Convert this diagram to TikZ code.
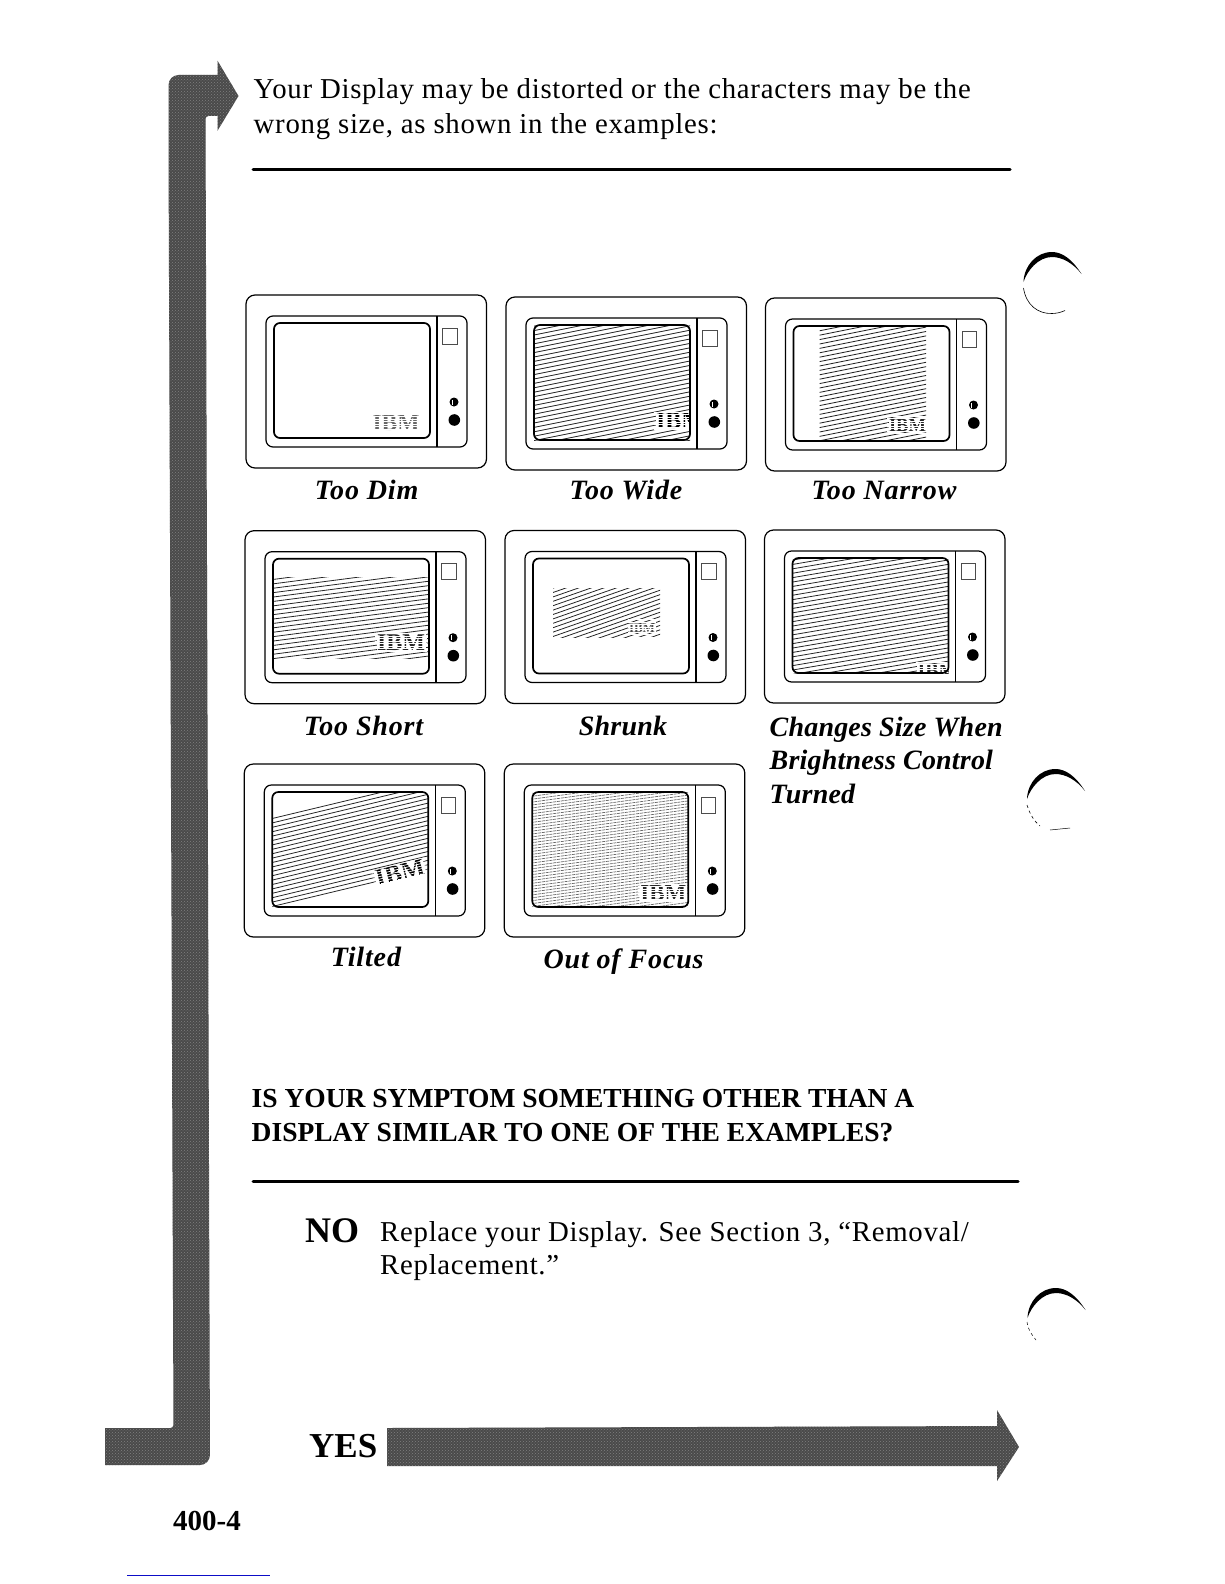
\documentclass[tikz,border=0pt]{standalone}
\usepackage{fontspec}
\usetikzlibrary{patterns}
\setmainfont{Liberation Serif}
\newfontfamily\bodyFont[LetterSpace=2.5]{Liberation Serif}
\newfontfamily\captionFont[LetterSpace=3]{Liberation Serif}
\newfontfamily\captionTight[LetterSpace=0.7]{Liberation Serif}

\definecolor{arrowGray}{gray}{0.29}
\definecolor{arrowDots}{gray}{0.5}
\definecolor{pageRule}{rgb}{0.05,0.05,0.78}

\tikzset{
    bodyText/.style={anchor=base west, inner sep=0pt, font=\fontsize{28.8}{34}\bodyFont},
    boldText/.style={anchor=base west, inner sep=0pt, font=\fontsize{27.5}{34}\selectfont\bfseries},
    captionText/.style={anchor=base, inner sep=0pt, font=\fontsize{28}{34}\captionFont\bfseries\itshape},
    captionLeft/.style={anchor=base west, inner sep=0pt, font=\fontsize{28}{34}\captionTight\bfseries\itshape},
    answerText/.style={anchor=base west, inner sep=0pt, font=\fontsize{36}{40}\selectfont\bfseries},
    heavyRule/.style={line width=3pt, line cap=round},
    frameLine/.style={line width=1.2pt, rounded corners=6pt},
    hatchLine/.style={line width=0.8pt, black!85},
    focusLine/.style={line width=0.7pt, black!60, dash pattern=on 3pt off 0.8pt},
    grayArrow/.style={fill=arrowGray, postaction={pattern=crosshatch dots, pattern color=arrowDots}},
    ibmStripe/.style={white, line width=0.7pt}
}

% One monitor, drawn in the local frame of its scope
\newcommand{\monitorFrame}{
    \draw[frameLine, rounded corners=9pt] (0,0) rectangle (240.5,173);
    \draw[frameLine, rounded corners=7pt] (20,21) rectangle (221,152);
    \draw[line width=1.1pt] (191,21) -- (191,152);
    \draw[line width=1.7pt, rounded corners=6pt] (28,28) rectangle (184,143);
    \draw[line width=0.6pt, black!70] (196.6,33) rectangle (211,49);
    \fill (208,107) circle (4.5);
    \fill[white] (205.6,104.5) rectangle (206.6,109.5);
    \fill (208.3,125) circle (5.8);
}

% Hatched part of a screen: x1, y1, x2, y2, slope
\newcommand{\screenHatch}[6][hatchLine]{
    \begin{scope}
        \clip (#2,#3) rectangle (#4,#5);
        \foreach \yy in {-40,-35.6,...,240} {
            \draw[#1] (0,\yy) -- (240,{\yy-240*#6});
        }
    \end{scope}
}

% The logo: name, x, y, rotation, font size, colour
\newcommand{\ibmLogo}[6]{
    \node[fill=white, inner sep=0.5pt, text=#6, rotate=#4, font=\fontsize{#5}{#5}\selectfont\bfseries] (#1) at (#2,#3) {IBM};
    \foreach \ss in {-9,-6.5,...,9} {
        \draw[ibmStripe, shift={(#1.center)}, rotate=-#4] ({-#5*1.1},\ss) -- ({#5*1.1},\ss);
    }
}

% The crescent left by a punched hole
\newcommand{\holeMark}[2]{
    \begin{scope}[shift={(#1,#2)}]
        \fill (29.5,-9) .. controls (20,-24) and (10,-31) .. (0,-31)
            .. controls (-16,-31) and (-28,-17) .. (-28.5,-1)
            .. controls (-25,-12) and (-14,-26) .. (0,-26)
            .. controls (10,-26) and (21,-20) .. cycle;
    \end{scope}
}

\begin{document}
\begin{tikzpicture}[yscale=-1, x=1pt, y=1pt]
    \useasboundingbox (0,0) rectangle (1224,1584);

    % Define the positions of the monitors
    \coordinate (dimPos) at (246,295);
    \coordinate (widePos) at (506,297);
    \coordinate (narrowPos) at (765.5,298);
    \coordinate (shortPos) at (245,530.7);
    \coordinate (shrunkPos) at (505,530.5);
    \coordinate (changesPos) at (764.5,530);
    \coordinate (tiltedPos) at (244.3,764);
    \coordinate (focusPos) at (504.3,764);

    % Draw the arrows
    \draw[grayArrow, draw=none] (105,1428) -- (167,1428) [rounded corners=3pt] -- (173.5,1428) [sharp corners] -- (168.5,150)
        [rounded corners=10pt] -- (168.5,75) [sharp corners] -- (217.5,75) -- (217.5,60.7) -- (238.5,96) -- (217.5,130.7) -- (217.5,116)
        [rounded corners=3pt] -- (205.5,116) [rounded corners=10pt] -- (210,1465) [sharp corners] -- (105,1465) -- cycle;
    \draw[grayArrow, draw=none] (387,1428) -- (997,1426) -- (997,1410) -- (1019,1447) -- (997,1481) -- (997,1466) -- (387,1466) -- cycle;

    % Draw the top text
    \node[bodyText] (intro1) at (253.5,99) {Your Display may be distorted or the characters may be the};
    \node[bodyText] (intro2) at (253.5,133) {wrong size, as shown in the examples:};
    \draw[heavyRule] (253,169.5) -- (1010,169.5);

    % Draw the monitors
    \begin{scope}[shift={(dimPos)}]
        \begin{scope}
            \clip (28,28) rectangle (184,143);
            \ibmLogo{dimLogo}{150}{128}{0}{23.5}{black!60}
        \end{scope}
        \monitorFrame
    \end{scope}

    \begin{scope}[shift={(widePos)}]
        \begin{scope}
            \clip (28,28) rectangle (184,143);
            \screenHatch{28}{28}{184}{143}{0.2}
            \ibmLogo{wideLogo}{174}{124}{0}{24}{black}
        \end{scope}
        \monitorFrame
    \end{scope}

    \begin{scope}[shift={(narrowPos)}]
        \screenHatch{54}{28}{160.5}{143}{0.2}
        \ibmLogo{narrowLogo}{142}{127}{0}{18.5}{black!85}
        \monitorFrame
    \end{scope}

    \begin{scope}[shift={(shortPos)}]
        \screenHatch{28}{47}{184}{128}{0.13}
        \ibmLogo{shortLogo}{156}{112}{0}{24}{black!85}
        \monitorFrame
    \end{scope}

    \begin{scope}[shift={(shrunkPos)}]
        \screenHatch{48}{58}{155}{107}{0.35}
        \ibmLogo{shrunkLogo}{137}{98}{0}{13}{black!70}
        \monitorFrame
    \end{scope}

    \begin{scope}[shift={(changesPos)}]
        \begin{scope}
            \clip (28,28) rectangle (184,143);
            \screenHatch{28}{28}{184}{143}{0.17}
            \ibmLogo{changesLogo}{173}{141}{0}{20}{black!85}
        \end{scope}
        \monitorFrame
    \end{scope}

    \begin{scope}[shift={(tiltedPos)}]
        \begin{scope}
            \clip (28,51.5) -- (122,28) -- (184,28) -- (184,108) -- (32,143) -- (28,143) -- cycle;
            \screenHatch{28}{28}{184}{143}{0.24}
            \ibmLogo{tiltedLogo}{155.7}{109}{14}{25}{black}
        \end{scope}
        \monitorFrame
    \end{scope}

    \begin{scope}[shift={(focusPos)}]
        \begin{scope}
            \clip (28,28) rectangle (184,143);
            \foreach \yy in {10,12.9,...,190} {
                \draw[focusLine] (0,\yy) -- (240,\yy-33);
            }
            \ibmLogo{focusLogo}{159}{129}{0}{23}{black!85}
        \end{scope}
        \monitorFrame
    \end{scope}

    % Draw the captions
    \node[captionText] (dimLabel) at (366.6,499) {Too Dim};
    \node[captionText] (wideLabel) at (626,499) {Too Wide};
    \node[captionText] (narrowLabel) at (884,499) {Too Narrow};
    \node[captionText] (shortLabel) at (363.6,735) {Too Short};
    \node[captionLeft, anchor=base] (shrunkLabel) at (623,735) {Shrunk};
    \node[captionLeft] (changesLabel1) at (769.5,736) {Changes Size When};
    \node[captionLeft] (changesLabel2) at (769.5,769.5) {Brightness Control};
    \node[captionLeft] (changesLabel3) at (769.5,803) {Turned};
    \node[captionText] (tiltedLabel) at (366,966.5) {Tilted};
    \node[captionText] (focusLabel) at (623.6,968.5) {Out of Focus};

    % Draw the question and the answers
    \node[boldText] (question1) at (251.5,1107) {IS YOUR SYMPTOM SOMETHING OTHER THAN A};
    \node[boldText] (question2) at (251.5,1141) {DISPLAY SIMILAR TO ONE OF THE EXAMPLES?};
    \draw[heavyRule] (253,1181) -- (1018,1181);

    \node[answerText] (noLabel) at (305,1242.5) {NO};
    \node[bodyText] (noText1) at (380,1241) {Replace your Display. See Section 3, “Removal/};
    \node[bodyText] (noText2) at (380,1274) {Replacement.”};
    \node[answerText, font=\fontsize{35}{40}\selectfont\bfseries] (yesLabel) at (309,1457.5) {YES};
    \node[boldText, font=\fontsize{29}{34}\selectfont\bfseries] (pageLabel) at (173,1530) {400-4};

    % The marks of the punched holes
    \holeMark{1052}{283}
    \draw[line width=0.6pt] (1023.5,288) .. controls (1026,305) and (1038,314) .. (1052,313.5) .. controls (1057,313.5) and (1062,312) .. (1065,310.5);
    \holeMark{1055.5}{800}
    \draw[line width=0.6pt, dashed] (1027,805) .. controls (1030,815) and (1035,822) .. (1040,826);
    \draw[line width=0.5pt] (1050,830) -- (1070,828);
    \holeMark{1056}{1319}
    \draw[line width=0.5pt, dashed] (1027,1322) .. controls (1028,1330) and (1032,1335) .. (1036,1340);

    % The line at the foot of the page
    \draw[pageRule, line width=1pt] (127,1575) -- (270,1575);
\end{tikzpicture}
\end{document}
